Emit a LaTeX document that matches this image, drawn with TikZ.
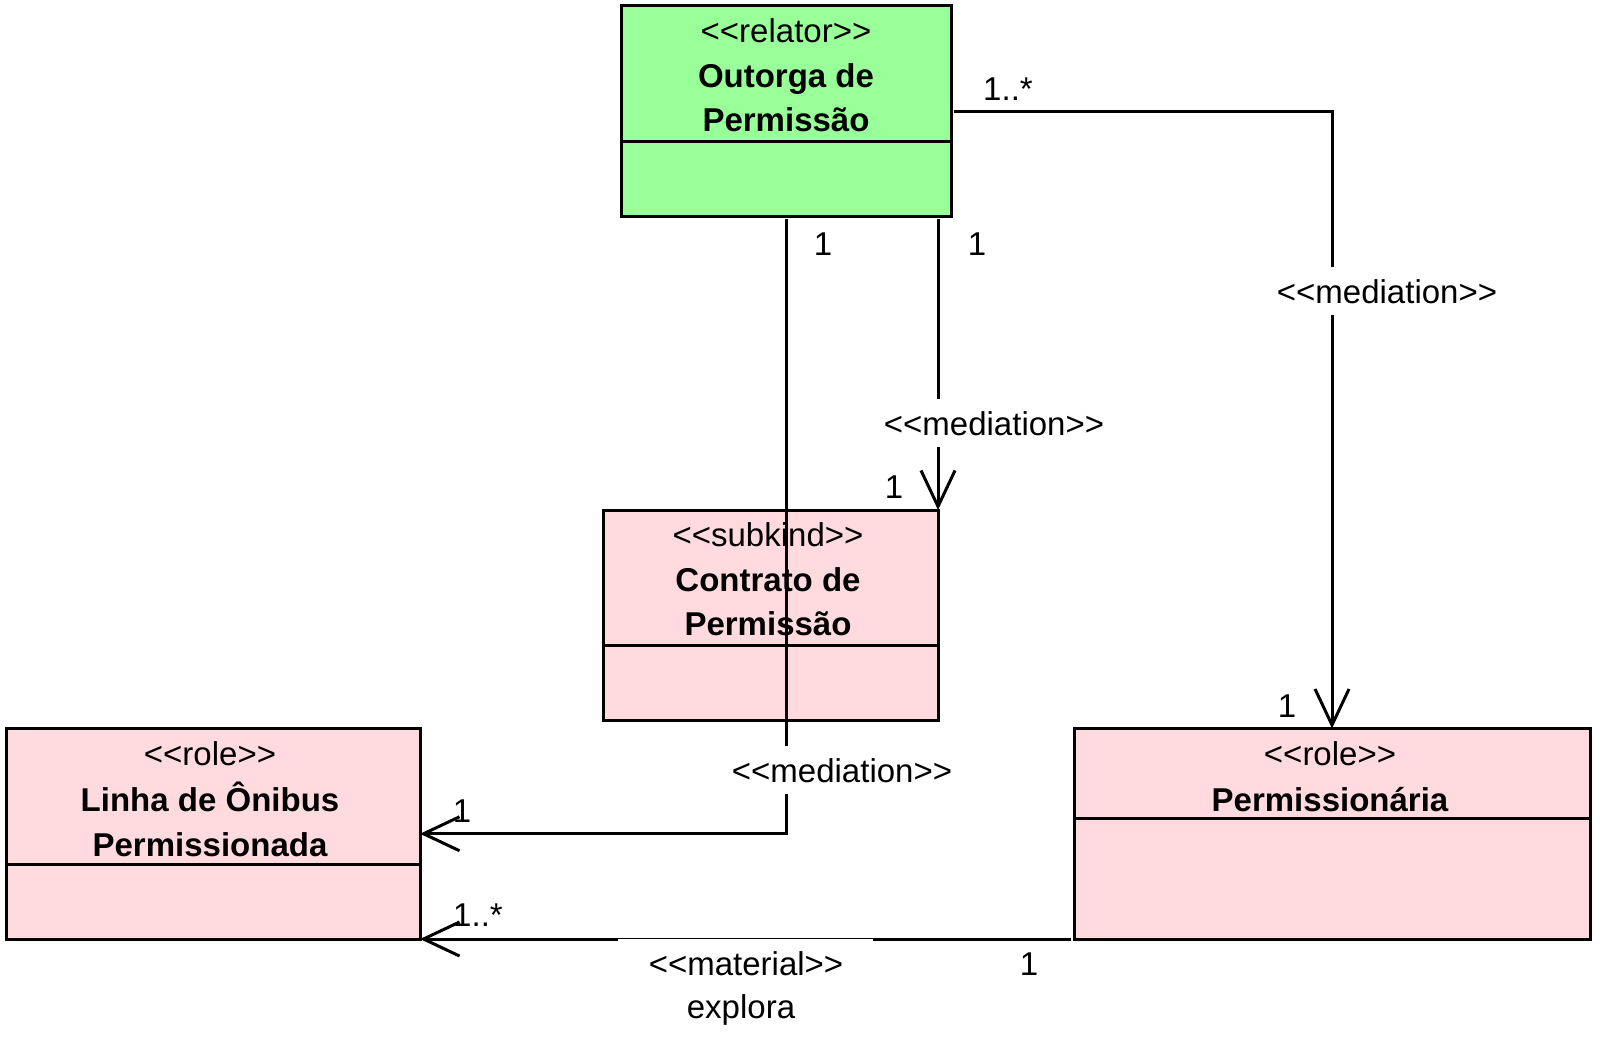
\documentclass[tikz,border=0pt]{standalone}
\usepackage{fontspec}
\setmainfont{Liberation Sans}
\usetikzlibrary{arrows.meta}
\definecolor{relgreen}{RGB}{153,255,153}
\definecolor{rolepink}{RGB}{255,218,222}
\newcommand\stereo[1]{<\kern0pt<#1>\kern0pt>}
\begin{document}
\begin{tikzpicture}[x=1pt,y=-1pt,
  every node/.style={font=\fontsize{33}{44}\selectfont, inner sep=0pt},
  bld/.style={font=\fontsize{33}{44}\selectfont\bfseries},
  classbox/.style={draw=black, line width=3pt, rectangle, anchor=north west, inner sep=0pt, outer sep=0pt},
  sepline/.style={line width=3pt},
  conn/.style={line width=3pt, -{Straight Barb[length=36pt,width=34pt,line width=3pt]}},
  lbl/.style={fill=white, inner xsep=3pt, text height=24pt, text depth=0pt, inner ysep=12pt},
  txt/.style={anchor=base}]
\useasboundingbox (0,0) rectangle (1602,1041);

% classes
\node[classbox, fill=relgreen, minimum width=330pt, minimum height=210pt] (outorga) at (621,6) {};
\draw[sepline] (outorga.west |- 0,141) -- (outorga.east |- 0,141);
\node[txt] (o1) at (786,43) {\stereo{relator}};
\node[txt,bld] (o2) at (786,87.5) {Outorga de};
\node[txt,bld] (o3) at (786,131.5) {Permissão};

\node[classbox, fill=rolepink, minimum width=335pt, minimum height=210pt] (contrato) at (603,510) {};
\draw[sepline] (contrato.west |- 0,645) -- (contrato.east |- 0,645);
\node[txt] (c1) at (768,546) {\stereo{subkind}};
\node[txt,bld] (c2) at (768,591) {Contrato de};
\node[txt,bld] (c3) at (768,635) {Permissão};

\node[classbox, fill=rolepink, minimum width=414pt, minimum height=210.5pt] (linha) at (6,728.5) {};
\draw[sepline] (linha.west |- 0,864) -- (linha.east |- 0,864);
\node[txt] (l1) at (210,765) {\stereo{role}};
\node[txt,bld] (l2) at (210,811) {Linha de Ônibus};
\node[txt,bld] (l3) at (210,856) {Permissionada};

\node[classbox, fill=rolepink, minimum width=516pt, minimum height=210.5pt] (perm) at (1074,728.5) {};
\draw[sepline] (perm.west |- 0,818) -- (perm.east |- 0,818);
\node[txt] (p1) at (1330,765) {\stereo{role}};
\node[txt,bld] (p2) at (1330,811) {Permissionária};

% connectors
\draw[conn] ([xshift=3pt]outorga.east) -| (perm.north);
\draw[conn] ([yshift=-3pt]outorga.south -| contrato.north east) -- (contrato.north east);
\draw[conn] ([yshift=-3pt]outorga.south) |- (linha.east);
\draw[conn] ([xshift=-3pt]perm.south west) -- (linha.south east);

% connector labels
\node[lbl] (m1) at (1387,291) {\stereo{mediation}};
\node[lbl] (m2) at (994,423) {\stereo{mediation}};
\node[lbl] (m3) at (842,770) {\stereo{mediation}};
\node[fill=white, anchor=north, minimum width=255pt, minimum height=95pt] (mat) at (745.5,939.2) {};
\node[txt] (mt1) at (746,975) {\stereo{material}};
\node[txt] (mt2) at (741,1018) {explora};

% multiplicities
\node[txt] (k1) at (1008,100) {1..*};
\node[txt] (k2) at (823,255) {1};
\node[txt] (k3) at (977,255) {1};
\node[txt] (k4) at (894,498) {1};
\node[txt] (k5) at (1287,717) {1};
\node[txt] (k6) at (462,822) {1};
\node[txt] (k7) at (478,926) {1..*};
\node[txt] (k8) at (1029,975) {1};
\end{tikzpicture}
\end{document}
